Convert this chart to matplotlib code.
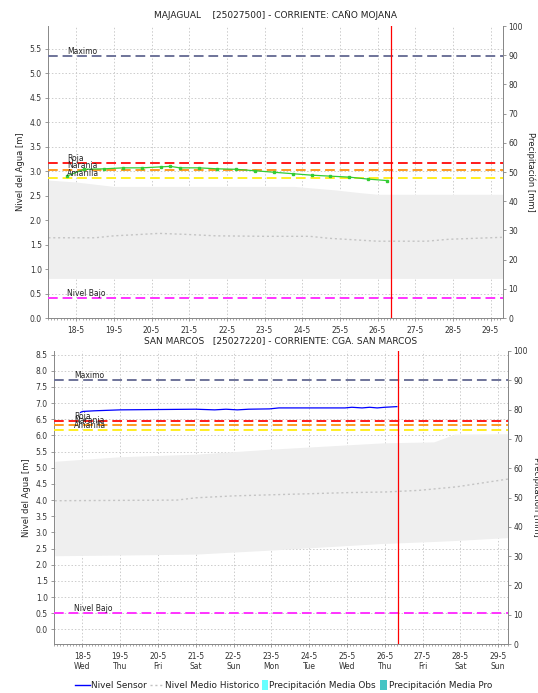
import matplotlib
matplotlib.use("Agg")
import matplotlib.pyplot as plt
from matplotlib.lines import Line2D
from matplotlib.patches import Rectangle
import numpy as np

W, H = 538, 693
DPI = 100

# ---------------- data (x = days after 18-5) ----------------
date_labels = ["18-5", "19-5", "20-5", "21-5", "22-5", "23-5", "24-5", "25-5", "26-5", "27-5", "28-5", "29-5"]
weekday_labels = ["Wed", "Thu", "Fri", "Sat", "Sun", "Mon", "Tue", "Wed", "Thu", "Fri", "Sat", "Sun"]

# Top: MAJAGUAL
top_title = "MAJAGUAL    [25027500] - CORRIENTE: CAÑO MOJANA"
top_sensor_days = [-0.25, 0.2, 0.75, 1.25, 1.75, 2.25, 2.5, 2.75, 3.25, 3.75, 4.25, 4.75, 5.25, 5.75, 6.25, 6.75, 7.25, 7.75, 8.25]
top_sensor = [2.90, 3.04, 3.05, 3.07, 3.07, 3.09, 3.10, 3.07, 3.07, 3.05, 3.04, 3.01, 2.98, 2.95, 2.92, 2.90, 2.88, 2.84, 2.81]
top_band_days = [-0.74, 0.0, 1.0, 5.8, 6.24, 6.86, 7.57, 8.0, 11.33]
top_band_upper = [2.82, 2.78, 2.69, 2.69, 2.66, 2.62, 2.56, 2.53, 2.53]
top_band_lower = [0.81, 0.81, 0.81, 0.81, 0.81, 0.81, 0.81, 0.81, 0.81]
top_mean_days = [-0.74, 0.5, 1.0, 1.5, 2.2, 2.9, 3.7, 5.0, 6.2, 6.7, 7.57, 8.0, 9.3, 9.9, 11.33]
top_mean = [1.64, 1.64, 1.68, 1.70, 1.73, 1.71, 1.68, 1.67, 1.67, 1.63, 1.59, 1.57, 1.57, 1.61, 1.65]
top_levels = {"Maximo": 5.35, "Roja": 3.17, "Naranja": 3.02, "Amarilla": 2.87, "Nivel Bajo": 0.40}

# Bottom: SAN MARCOS
bot_title = "SAN MARCOS   [25027220] - CORRIENTE: CGA. SAN MARCOS"
bot_sensor_days = [-0.05, 0.0, 0.3, 1.0, 2.0, 3.0, 3.5, 3.8, 4.1, 4.4, 4.95, 5.2, 6.95, 7.13, 7.4, 7.6, 7.8, 8.0, 8.32]
bot_sensor = [6.71, 6.74, 6.76, 6.79, 6.80, 6.81, 6.79, 6.81, 6.79, 6.81, 6.82, 6.85, 6.85, 6.87, 6.85, 6.87, 6.85, 6.87, 6.89]
bot_band_days = [-0.73, 1.0, 3.0, 4.92, 7.96, 9.3, 9.85, 11.26]
bot_band_upper = [5.20, 5.34, 5.42, 5.57, 5.77, 5.80, 6.04, 6.05]
bot_band_lower = [2.28, 2.30, 2.33, 2.45, 2.66, 2.72, 2.75, 2.84]
bot_mean_days = [-0.73, 2.5, 3.0, 4.0, 5.5, 7.0, 8.0, 8.9, 9.9, 11.26]
bot_mean = [3.98, 4.00, 4.07, 4.13, 4.18, 4.23, 4.25, 4.30, 4.41, 4.65]
bot_levels = {"Maximo": 7.72, "Roja": 6.45, "Naranja": 6.31, "Amarilla": 6.16, "Nivel Bajo": 0.50}

now_day = 8.35

legend_labels = ["Nivel Sensor", "Nivel Medio Historico", "Precipitación Media Obs", "Precipitación Media Pro"]

level_colors = {"Maximo": "#6e7399", "Roja": "#ff1a1a", "Naranja": "#ff9a1f",
                "Amarilla": "#ffee22", "Nivel Bajo": "#ff33ff"}

fig = plt.figure(figsize=(W / DPI, H / DPI), dpi=DPI)
plt.rcParams['font.family'] = ['DejaVu Sans']

TXT = "#333333"
SP = "#888888"


def px_axes(l, t, r, b):
    return fig.add_axes([l / W, (H - b) / H, (r - l) / W, (b - t) / H])


def draw(ax, xlim, ylim, yticks, sensor_d, sensor_v, sensor_style, band_d, up, lo,
         mean_d, mean_v, levels, title, weekdays, label_x):
    ax.set_xlim(*xlim)
    ax.set_ylim(*ylim)
    ax.fill_between(band_d, lo, up, color="#efefef", lw=0, zorder=1)
    ax.plot(mean_d, mean_v, color="#c4c4c4", lw=1.0, ls=(0, (1.5, 2)), zorder=2)
    for name, v in levels.items():
        ax.axhline(v, color=level_colors[name], lw=1.4, ls=(0, (5, 2.5)), zorder=3)
        ax.text(label_x, v, name, fontsize=5.5, color="#222222", va="bottom", ha="left", zorder=6)
    ax.plot(sensor_d, sensor_v, zorder=5, **sensor_style)
    ax.axvline(now_day, color="#ff0000", lw=0.9, zorder=4)

    ax.set_xticks(range(len(date_labels)))
    if weekdays:
        ax.set_xticklabels([f"{d}\n{w}" for d, w in zip(date_labels, weekday_labels)])
    else:
        ax.set_xticklabels(date_labels)
    ax.set_xticks(np.arange(-0.75, xlim[1], 1 / 12), minor=True)
    ax.set_yticks(yticks)
    ax.set_yticklabels([f"{v:.1f}" for v in yticks])
    ax.grid(True, color="#cccccc", ls=(0, (1.5, 2)), lw=0.7, zorder=0)
    ax.set_axisbelow(True)
    ax.tick_params(axis="both", labelsize=5.5, colors=SP, labelcolor=TXT, length=2.5, width=0.6, pad=2)
    ax.tick_params(axis="x", which="minor", length=1.5, width=0.5, colors=SP)
    ax.tick_params(axis="x", pad=3)
    for s in ["left", "bottom", "right"]:
        ax.spines[s].set_color(SP)
        ax.spines[s].set_linewidth(0.7)
    ax.spines["top"].set_visible(False)
    ax.set_title(title, fontsize=6.5, color="#222222", pad=6)
    ax.set_ylabel("Nivel del Agua [m]", fontsize=6, color="#222222", labelpad=3)

    ax2 = ax.twinx()
    ax2.set_ylim(0, 100)
    ax2.set_yticks(range(0, 101, 10))
    ax2.tick_params(axis="y", labelsize=5.5, colors=SP, labelcolor=TXT, length=2.5, width=0.6, pad=1.5)
    for s in ["left", "bottom", "top"]:
        ax2.spines[s].set_visible(False)
    ax2.spines["right"].set_color(SP)
    ax2.spines["right"].set_linewidth(0.7)
    return ax2


# top panel
axt = px_axes(48, 26, 503, 318)
ax2t = draw(axt, (-0.74, 11.33), (0, 5.97), np.arange(0, 5.6, 0.5),
            top_sensor_days, top_sensor,
            dict(color="#33cc33", lw=0.9, marker="s", ms=2.0),
            top_band_days, top_band_upper, top_band_lower,
            top_mean_days, top_mean, top_levels, top_title, False, -0.24)
fig.text(531 / W, 1 - 172 / H, "Precipitación [mm]", rotation=270, fontsize=6, color="#222222",
         ha="center", va="center")

# bottom panel
axb = px_axes(54, 351, 508, 644)
ax2b = draw(axb, (-0.73, 11.26), (-0.45, 8.61), np.arange(0, 8.6, 0.5),
            bot_sensor_days, bot_sensor,
            dict(color="#0000ff", lw=0.9),
            bot_band_days, bot_band_upper, bot_band_lower,
            bot_mean_days, bot_mean, bot_levels, bot_title, True, -0.22)
fig.text(537 / W, 1 - 497 / H, "Precipitación [mm]", rotation=270, fontsize=6, color="#222222",
         ha="center", va="center")

# legend (placed in figure pixels)
ly = 1 - 685 / H
fs = 6.4
fig.add_artist(Line2D([75 / W, 90 / W], [ly, ly], color="#0000ff", lw=1.0))
fig.text(91 / W, ly, legend_labels[0], fontsize=fs, color="#222222", va="center", ha="left")
fig.add_artist(Line2D([150 / W, 162 / W], [ly, ly], color="#c0c0c0", lw=1.0, ls=(0, (1.5, 2))))
fig.text(165 / W, ly, legend_labels[1], fontsize=fs, color="#222222", va="center", ha="left")
fig.add_artist(Rectangle((262 / W, ly - 5 / H), 6 / W, 10 / H, transform=fig.transFigure,
                         facecolor="#66ffff", edgecolor="none"))
fig.text(269 / W, ly, legend_labels[2], fontsize=fs, color="#222222", va="center", ha="left")
fig.add_artist(Rectangle((380 / W, ly - 5 / H), 7 / W, 10 / H, transform=fig.transFigure,
                         facecolor="#44c4c4", edgecolor="none"))
fig.text(389 / W, ly, legend_labels[3], fontsize=fs, color="#222222", va="center", ha="left")

fig.savefig("out.png", dpi=DPI)
